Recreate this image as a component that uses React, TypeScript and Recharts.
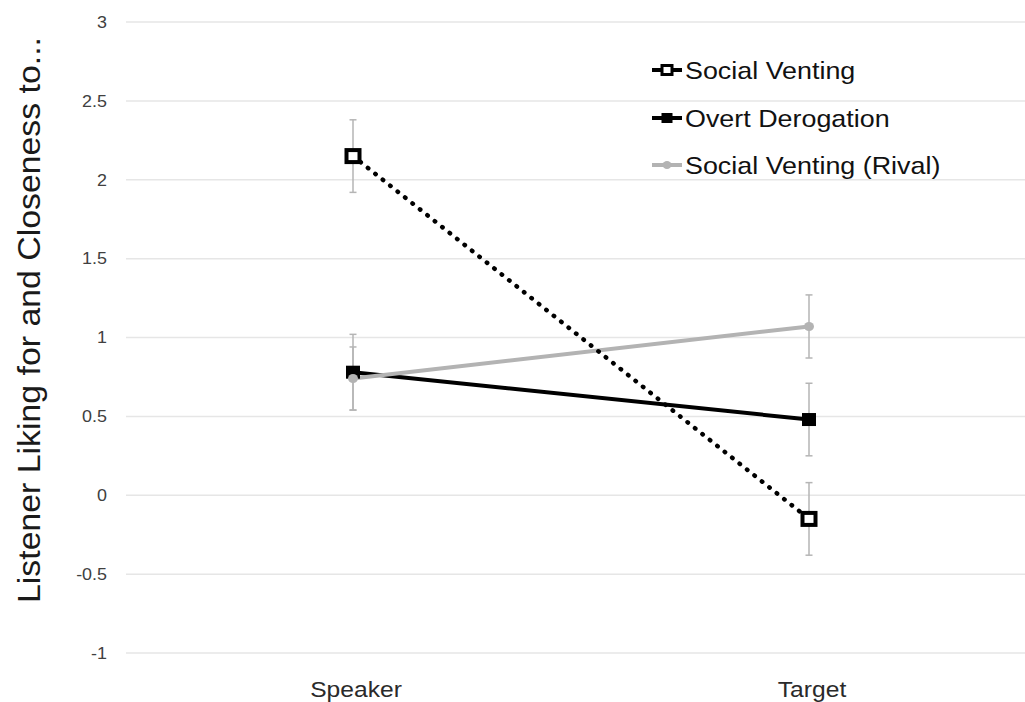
import React from 'react';
import { LineChart, Line, XAxis, YAxis, CartesianGrid, ErrorBar, Legend, Label } from 'recharts';

const categories = ['Speaker', 'Target'];
const socialVenting = [2.15, -0.15];
const socialVentingErr = [0.23, 0.23];
const overtDerogation = [0.78, 0.48];
const overtDerogationErr = [0.24, 0.23];
const rivalVenting = [0.74, 1.07];
const rivalVentingErr = [0.2, 0.2];
const yTicks = [-1, -0.5, 0, 0.5, 1, 1.5, 2, 2.5, 3];
const seriesNames = ['Social Venting', 'Overt Derogation', 'Social Venting (Rival)'];
const yAxisTitle = 'Listener Liking for and Closeness to...';

const FONT = '"Liberation Sans", Arial, Helvetica, sans-serif';
const GRAY = '#b3b3b3';
const ERR = '#b5b5b5';

const data = categories.map((c, i) => ({
  category: c,
  sv: socialVenting[i],
  svErr: socialVentingErr[i],
  od: overtDerogation[i],
  odErr: overtDerogationErr[i],
  rv: rivalVenting[i],
  rvErr: rivalVentingErr[i],
}));

const OpenSquare = (props: any) => {
  const { cx, cy } = props;
  if (cx == null || cy == null) return null;
  return <rect x={cx - 6.5} y={cy - 6} width={13} height={12} fill="#fff" stroke="#000" strokeWidth={4} />;
};
const FilledSquare = (props: any) => {
  const { cx, cy } = props;
  if (cx == null || cy == null) return null;
  return <rect x={cx - 7} y={cy - 6.5} width={14} height={13} fill="#000" stroke="none" />;
};
const GrayDot = (props: any) => {
  const { cx, cy } = props;
  if (cx == null || cy == null) return null;
  return <ellipse cx={cx} cy={cy} rx={5} ry={4.5} fill={GRAY} stroke="none" />;
};

const YTick = (props: any) => {
  const { x, y, payload } = props;
  return (
    <g transform={`translate(${x},${y})`}>
      <text transform="scale(1.12,1)" textAnchor="end" dy="0.36em" fontSize={16} fill="#404040" fontFamily={FONT}>
        {payload.value}
      </text>
    </g>
  );
};

const XTick = (props: any) => {
  const { x, y, payload } = props;
  return (
    <g transform={`translate(${x + 3},${y + 44})`}>
      <text transform="scale(1.12,1)" textAnchor="middle" fontSize={22} fill="#2a2a2a" fontFamily={FONT}>
        {payload.value}
      </text>
    </g>
  );
};

const renderLegend = () => {
  const rows = [30, 78, 125];
  return (
    <svg width={385} height={150} style={{ display: 'block' }}>
      {seriesNames.map((name, i) => {
        const y = rows[i];
        const color = i === 2 ? GRAY : '#000';
        return (
          <g key={name}>
            <line x1={12} x2={42} y1={y} y2={y} stroke={color} strokeWidth={4} />
            {i === 0 && <rect x={22} y={y - 4.5} width={10} height={9} fill="#fff" stroke="#000" strokeWidth={3} />}
            {i === 1 && <rect x={21.5} y={y - 5} width={11} height={10} fill="#000" />}
            {i === 2 && <ellipse cx={27} cy={y} rx={4.5} ry={4} fill={GRAY} />}
            <g transform={`translate(45,${y + 8.5})`}>
              <text transform="scale(1.12,1)" fontSize={24} fill="#111" fontFamily={FONT}>
                {name}
              </text>
            </g>
          </g>
        );
      })}
    </svg>
  );
};

const YTitle = () => (
  <text
    x={40}
    y={320}
    transform="rotate(-90, 40, 320)"
    textAnchor="middle"
    fontSize={31}
    fill="#1a1a1a"
    fontFamily={FONT}
    textLength={566}
    lengthAdjust="spacingAndGlyphs"
  >
    {yAxisTitle}
  </text>
);

export default function App() {
  return (
    <div style={{ position: 'fixed', left: 0, top: 0, width: 1025, height: 702, overflow: 'hidden', background: '#fff' }}>
      <LineChart width={1040} height={702} data={data} margin={{ top: 22, right: 4, bottom: 0, left: 0 }}>
        <CartesianGrid vertical={false} stroke="#e6e6e6" strokeWidth={1.5} />
        <XAxis
          dataKey="category"
          height={49}
          axisLine={false}
          tickLine={false}
          tickSize={0}
          tickMargin={0}
          tick={<XTick />}
          interval={0}
          padding={{ left: 227, right: 227 }}
        />
        <YAxis
          type="number"
          domain={[-1, 3]}
          ticks={yTicks}
          width={126}
          axisLine={false}
          tickLine={false}
          tickSize={0}
          tickMargin={19}
          tick={<YTick />}
          interval={0}
        >
          <Label content={<YTitle />} />
        </YAxis>
        <Legend
          layout="vertical"
          align="center"
          verticalAlign="middle"
          content={renderLegend}
          wrapperStyle={{ position: 'absolute', left: 640, top: 40, width: 385, height: 150 }}
        />
        <Line
          dataKey="od"
          name={seriesNames[1]}
          stroke="#000"
          strokeWidth={4}
          dot={<FilledSquare />}
          activeDot={false}
          isAnimationActive={false}
        >
          <ErrorBar dataKey="odErr" stroke={ERR} strokeWidth={1.5} width={3.5} direction="y" />
        </Line>
        <Line
          dataKey="rv"
          name={seriesNames[2]}
          stroke={GRAY}
          strokeWidth={4}
          dot={<GrayDot />}
          activeDot={false}
          isAnimationActive={false}
        >
          <ErrorBar dataKey="rvErr" stroke={ERR} strokeWidth={1.5} width={3.5} direction="y" />
        </Line>
        <Line
          dataKey="sv"
          name={seriesNames[0]}
          stroke="#000"
          strokeWidth={4.5}
          strokeDasharray="0.5 9"
          strokeLinecap="round"
          dot={<OpenSquare />}
          activeDot={false}
          isAnimationActive={false}
        >
          <ErrorBar dataKey="svErr" stroke={ERR} strokeWidth={1.5} width={3.5} direction="y" />
        </Line>
      </LineChart>
    </div>
  );
}
